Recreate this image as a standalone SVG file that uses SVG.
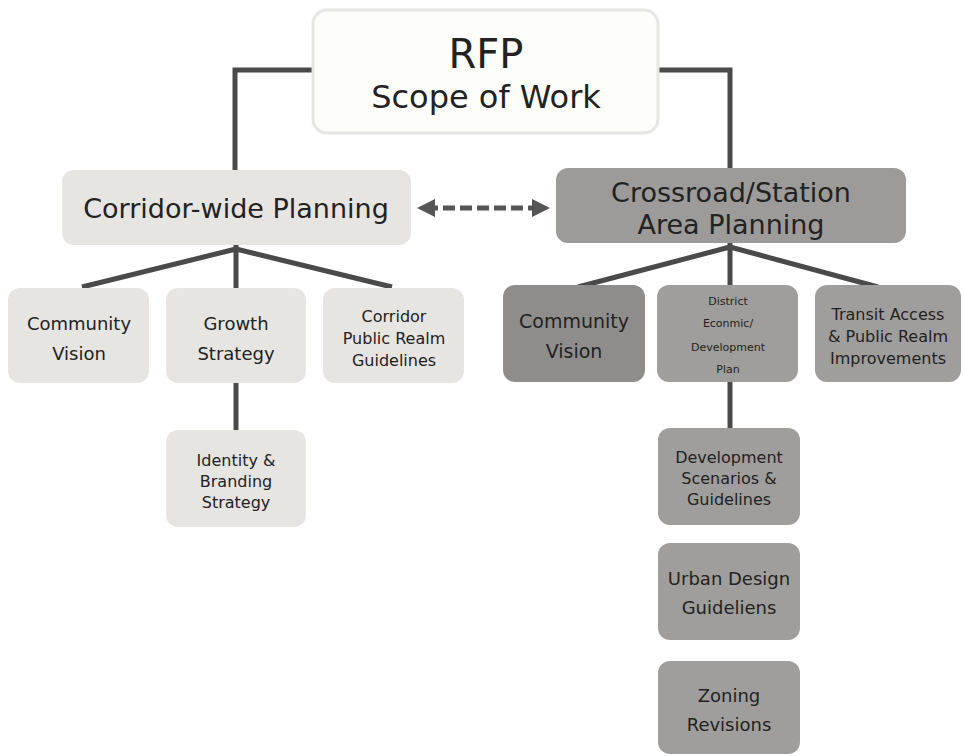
<svg xmlns="http://www.w3.org/2000/svg" width="963" height="756" viewBox="0 0 963 756">
<style>
.t{font-family:"DejaVu Sans","Liberation Sans",sans-serif;fill:#222;text-anchor:middle}
.lt{fill:#e7e5e2}
.dk{fill:#a09e9c}
.ln{stroke:#4a4a4a;stroke-width:5;fill:none}
</style>
<defs>
<marker id="ah" viewBox="0 0 10 10" refX="5" refY="5" markerWidth="3.6" markerHeight="3.6" orient="auto-start-reverse">
<path d="M0,0 L10,5 L0,10 z" fill="#555"/>
</marker>
</defs>
<rect width="963" height="756" fill="#ffffff"/>
<g id="connectors">
<path class="ln" d="M313,70 H235 V172"/>
<path class="ln" d="M658,70 H730 V170"/>
<path class="ln" d="M236,245 V288 M236,249 L82,287 M236,249 L392,287"/>
<path class="ln" d="M236,383 V431"/>
<path class="ln" d="M730,243 V287 M730,247 L578,287 M730,247 L878,287"/>
<path class="ln" d="M730,382 V430"/>
<line x1="426" y1="208" x2="541" y2="208" stroke="#555" stroke-width="5" stroke-dasharray="12,5" marker-start="url(#ah)" marker-end="url(#ah)"/>
</g>
<g id="rfp">
<rect x="313" y="10" width="345" height="123" rx="14" fill="#fdfdfa" stroke="#e6e6e4" stroke-width="3"/>
<text class="t" x="486" y="68" font-size="40">RFP</text>
<text class="t" x="486" y="108" font-size="32">Scope of Work</text>
</g>
<g id="corridor">
<rect class="lt" x="62" y="170" width="349" height="75" rx="12"/>
<text class="t" x="236" y="218" font-size="27">Corridor-wide Planning</text>
</g>
<g id="crossroad">
<rect x="556" y="168" width="350" height="75" rx="12" fill="#9d9b99"/>
<text class="t" x="731" y="202" font-size="27">Crossroad/Station</text>
<text class="t" x="731" y="234" font-size="27">Area Planning</text>
</g>
<g id="l-community">
<rect class="lt" x="8" y="288" width="141" height="95" rx="12"/>
<text class="t" x="79" y="330" font-size="18">Community</text>
<text class="t" x="79" y="360" font-size="18">Vision</text>
</g>
<g id="l-growth">
<rect class="lt" x="166" y="288" width="140" height="95" rx="12"/>
<text class="t" x="236" y="330" font-size="18">Growth</text>
<text class="t" x="236" y="360" font-size="18">Strategy</text>
</g>
<g id="l-public">
<rect class="lt" x="323" y="288" width="141" height="95" rx="12"/>
<text class="t" x="394" y="322" font-size="16">Corridor</text>
<text class="t" x="394" y="344" font-size="16">Public Realm</text>
<text class="t" x="394" y="366" font-size="16">Guidelines</text>
</g>
<g id="l-identity">
<rect class="lt" x="166" y="430" width="140" height="97" rx="12"/>
<text class="t" x="236" y="466" font-size="16">Identity &amp;</text>
<text class="t" x="236" y="487" font-size="16">Branding</text>
<text class="t" x="236" y="508" font-size="16">Strategy</text>
</g>
<g id="r-community">
<rect x="503" y="285" width="142" height="97" rx="12" fill="#8f8d8b"/>
<text class="t" x="574" y="328" font-size="19">Community</text>
<text class="t" x="574" y="358" font-size="19">Vision</text>
</g>
<g id="r-district">
<rect class="dk" x="657" y="285" width="141" height="97" rx="12"/>
<text class="t" x="728" y="305" font-size="11">District</text>
<text class="t" x="728" y="327" font-size="11">Econmic/</text>
<text class="t" x="728" y="351" font-size="11">Development</text>
<text class="t" x="728" y="373" font-size="11">Plan</text>
</g>
<g id="r-transit">
<rect class="dk" x="815" y="285" width="146" height="97" rx="12"/>
<text class="t" x="888" y="320" font-size="16">Transit Access</text>
<text class="t" x="888" y="342" font-size="16">&amp; Public Realm</text>
<text class="t" x="888" y="364" font-size="16">Improvements</text>
</g>
<g id="r-devscen">
<rect class="dk" x="658" y="428" width="142" height="97" rx="12"/>
<text class="t" x="729" y="463" font-size="16">Development</text>
<text class="t" x="729" y="484" font-size="16">Scenarios &amp;</text>
<text class="t" x="729" y="505" font-size="16">Guidelines</text>
</g>
<g id="r-urban">
<rect class="dk" x="658" y="543" width="142" height="97" rx="12"/>
<text class="t" x="729" y="585" font-size="18">Urban Design</text>
<text class="t" x="729" y="614" font-size="18">Guideliens</text>
</g>
<g id="r-zoning">
<rect class="dk" x="658" y="661" width="142" height="93" rx="12"/>
<text class="t" x="729" y="702" font-size="18">Zoning</text>
<text class="t" x="729" y="731" font-size="18">Revisions</text>
</g>
</svg>
